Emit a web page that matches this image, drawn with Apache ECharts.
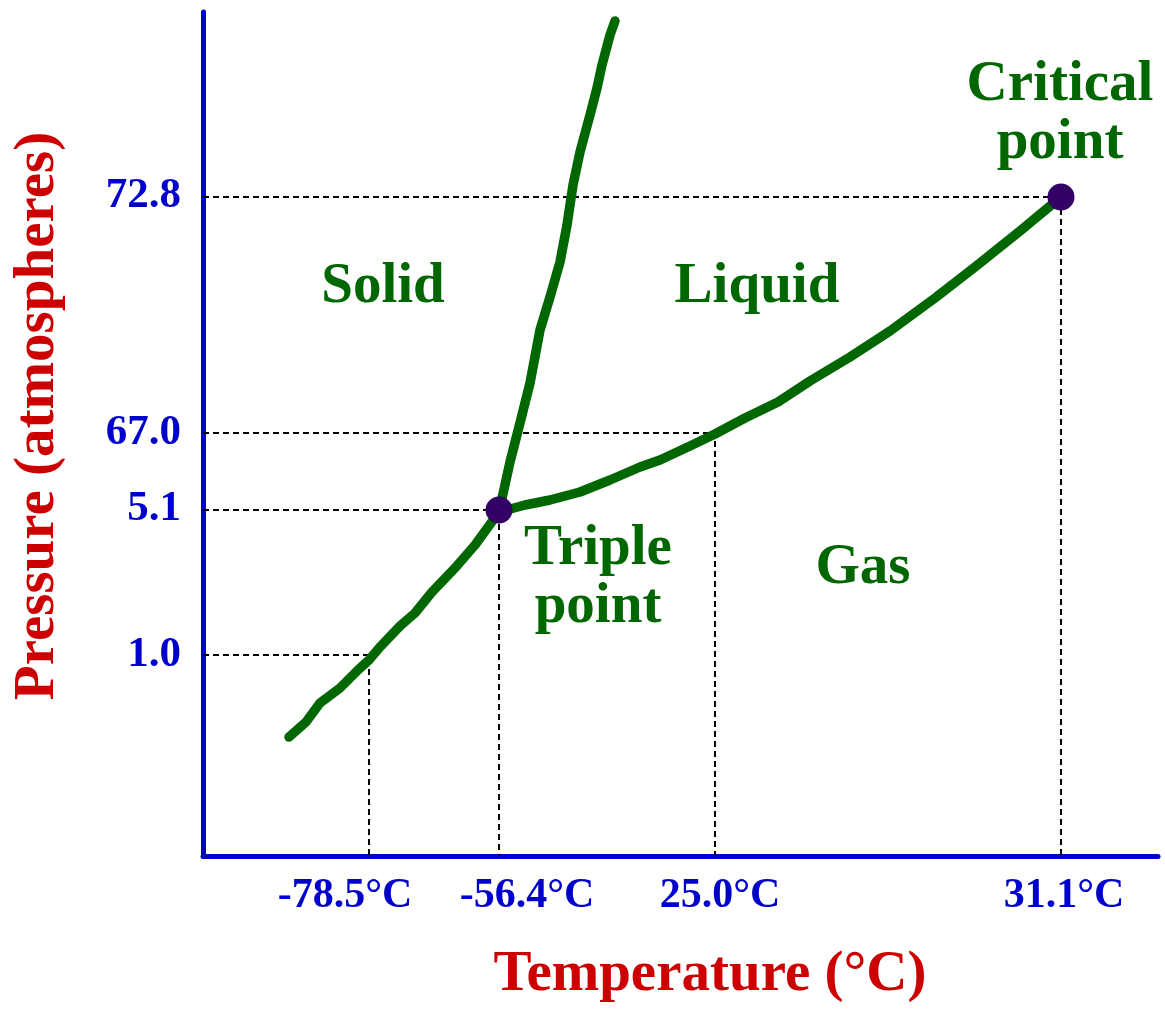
<!DOCTYPE html>
<html>
<head>
<meta charset="utf-8">
<title>CO2 phase diagram</title>
<script src="https://cdn.jsdelivr.net/npm/echarts@6/dist/echarts.min.js"></script>
<style>
    html, body { margin: 0; padding: 0; background: #fff; }
    #chart { width: 1165px; height: 1010px; }
</style>
</head>
<body>
<div id="chart"></div>
<script>
// schematic units: the diagram is not to scale, so both axes are plain positions
const xLabels = ['-78.5°C', '-56.4°C', '25.0°C', '31.1°C'];
const xLabelAt = [142, 324, 517, 861];
const yLabels = ['72.8', '67.0', '5.1', '1.0'];
const yLabelAt = [660, 423, 347, 201];

// reference points: sublimation at 1 atm, triple point, 25 °C at 67 atm, critical point
const refX = [166, 296, 512, 858];
const refY = [201, 346, 423, 659];

const sublimation = [
    [86, 119], [103, 134], [117, 153], [137, 168], [155, 186], [166, 196],
    [177, 209], [197, 230], [212, 243], [229, 264], [252, 288], [272, 311], [296, 344]
];
const vaporization = [
    [296, 344], [322, 351], [347, 356], [377, 364], [407, 376], [437, 389],
    [457, 396], [487, 410], [512, 422], [542, 438], [575, 454], [607, 475],
    [647, 499], [687, 525], [732, 558], [772, 589], [817, 625], [858, 659]
];
const melting = [
    [296, 344], [307, 394], [319, 441], [327, 473], [337, 526], [347, 559],
    [357, 594], [364, 631], [370, 671], [377, 704], [387, 741], [394, 768],
    [399, 791], [407, 821], [412, 835]
];

const regionNames = ['Solid', 'Liquid', 'Gas', 'Triple\npoint', 'Critical\npoint'];
const regionAt = [[180, 569], [554, 569], [660, 288], [395, 278], [857, 742]];

const GREEN = '#006600';
const BLUE = '#0000cc';
const RED = '#cc0000';
const SERIF = '"Liberation Serif", "Times New Roman", serif';

const chart = echarts.init(document.getElementById('chart'));

const guideSeries = refX.map((x, i) => ({
    type: 'line',
    data: [[0, refY[i]], [x, refY[i]], [x, 0]],
    showSymbol: false,
    silent: true,
    z: 1,
    lineStyle: { color: '#000', width: 2, type: [6, 4] }
}));

const curve = (name, data) => ({
    name: name,
    type: 'line',
    data: data,
    showSymbol: false,
    z: 3,
    lineStyle: { color: GREEN, width: 9.5, cap: 'round', join: 'round' }
});

chart.setOption({
    backgroundColor: '#fff',
    animation: false,
    grid: { left: 203, right: 7, top: 12, bottom: 154 },
    xAxis: {
        type: 'value',
        min: 0,
        max: 955,
        splitLine: { show: false },
        axisTick: { show: false },
        axisLine: { lineStyle: { color: BLUE, width: 5 } },
        axisLabel: {
            customValues: xLabelAt,
            formatter: (v) => xLabels[xLabelAt.indexOf(v)],
            margin: 19,
            color: BLUE,
            fontFamily: SERIF,
            fontWeight: 'bold',
            fontSize: 42
        }
    },
    yAxis: {
        type: 'value',
        min: 0,
        max: 844,
        splitLine: { show: false },
        axisTick: { show: false },
        axisLine: { lineStyle: { color: BLUE, width: 5 } },
        axisLabel: {
            customValues: yLabelAt,
            formatter: (v) => yLabels[yLabelAt.indexOf(v)],
            margin: 22,
            color: BLUE,
            fontFamily: SERIF,
            fontWeight: 'bold',
            fontSize: 43
        }
    },
    graphic: [
        {
            type: 'text',
            x: 710,
            y: 975,
            style: {
                text: 'Temperature (°C)',
                fill: RED,
                font: 'bold 57px ' + SERIF,
                align: 'center',
                verticalAlign: 'middle'
            }
        },
        {
            type: 'text',
            x: 38,
            y: 416,
            rotation: Math.PI / 2,
            style: {
                text: 'Pressure (atmospheres)',
                fill: RED,
                font: 'bold 57px ' + SERIF,
                align: 'center',
                verticalAlign: 'middle'
            }
        }
    ],
    series: [
        ...guideSeries,
        curve('sublimation', sublimation),
        curve('vaporization', vaporization),
        curve('melting', melting),
        {
            type: 'scatter',
            data: [[refX[1], refY[1]], [refX[3], refY[3]]],
            symbolSize: 27,
            z: 5,
            itemStyle: { color: '#330066', opacity: 1 }
        },
        {
            type: 'scatter',
            data: regionAt.map((p, i) => ({ value: p, name: regionNames[i] })),
            symbolSize: 0,
            silent: true,
            z: 6,
            itemStyle: { opacity: 1 },
            label: {
                show: true,
                position: 'inside',
                formatter: (p) => p.name,
                color: GREEN,
                fontFamily: SERIF,
                fontWeight: 'bold',
                fontSize: 57,
                lineHeight: 58,
                align: 'center',
                verticalAlign: 'middle'
            }
        }
    ]
});
</script>
</body>
</html>
